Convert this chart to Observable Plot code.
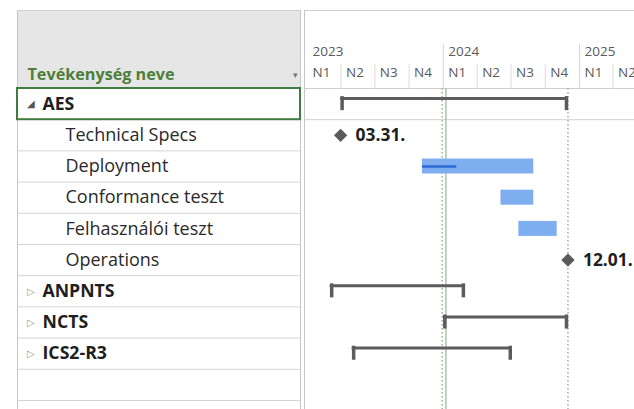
<!DOCTYPE html>
<html><head><meta charset="utf-8">
<script src="https://cdn.jsdelivr.net/npm/d3@7"></script>
<script src="https://cdn.jsdelivr.net/npm/@observablehq/plot@0.6"></script>
<style>
body{margin:0;background:#fff;}
#wrap{display:flex;width:634px;height:409px;overflow:hidden;}
#wrap svg{display:block;flex:none;}
</style></head><body><div id="wrap"></div>
<script>
// ---- data ----
const taskNames = ["AES","Technical Specs","Deployment","Conformance teszt","Felhasználói teszt","Operations","ANPNTS","NCTS","ICS2-R3"];
const taskLevels = [0,1,1,1,1,1,0,0,0];
const taskKinds = ["summary","milestone","task","task","task","milestone","summary","summary","summary"];
const taskStarts = ["2023-03-31","2023-03-31","2023-11-06","2024-06-04","2024-07-22","2024-12-01","2023-03-03","2024-01-01","2023-05-01"];
const taskEnds   = ["2024-12-01","2023-03-31","2024-08-31","2024-08-31","2024-11-02","2024-12-01","2024-02-28","2024-12-01","2024-07-03"];
const taskExpanded = [true,null,null,null,null,null,false,false,false];
const progressTask = ["Deployment"];
const progressEnd = ["2024-02-06"];
const yearLabels = ["2023","2024","2025"];
const quarterLabels = ["N1","N2","N3","N4"];
const dottedDates = ["2023-12-29","2024-12-01"];
const currentDate = ["2024-01-08"];
const headerTitle = "Tevékenység neve";
const selectedRow = 0;
const rowCount = 10;

// ---- derived table ----
const rows = taskNames.map((name,i)=>({
  name, i, level:taskLevels[i], kind:taskKinds[i],
  start:new Date(taskStarts[i]), end:new Date(taskEnds[i]), expanded:taskExpanded[i]
}));
const prog = progressTask.map((n,k)=>{const r=rows.find(d=>d.name===n);return {...r, pend:new Date(progressEnd[k])};});
const yearStarts = yearLabels.map(y=>new Date(`${y}-01-01`));
const quarterStarts = yearLabels.flatMap(y=>quarterLabels.map((q,k)=>({d:new Date(Date.UTC(+y,k*3,1)), q})));
const FONT = "'Open Sans', Lato, sans-serif";
const yScale = {domain:[0,rowCount], range:[88,400], axis:null};

// ---- left table ----
const left = Plot.plot({
  width:302, height:409, marginLeft:17, marginRight:2, marginTop:88, marginBottom:9,
  style:{fontFamily:FONT, background:"white", overflow:"hidden"},
  x:{domain:[0,1], axis:null},
  y:yScale,
  marks:[
    Plot.frame({insetTop:-78, insetBottom:312, fill:"#e6e6e6", stroke:"none"}),
    Plot.ruleY(d3.range(0,rowCount+1), {stroke:"#d5d5d5"}),
    Plot.ruleX([0,1], {insetTop:-78, insetBottom:-9, stroke:"#c6c6c6"}),
    Plot.frame({anchor:"top", insetTop:-78, stroke:"#cfcfcf"}),
    Plot.rect([selectedRow], {x1:0, x2:1, y1:d=>d, y2:d=>d+1, fill:"none", stroke:"#3f7d3f", strokeWidth:2}),
    Plot.text([headerTitle], {frameAnchor:"top-left", dx:10, dy:-9, lineAnchor:"bottom", textAnchor:"start", fill:"#4e7f3a", fontWeight:"bold", fontSize:16.2}),
    Plot.text(["▾"], {frameAnchor:"top-right", dx:-3, dy:-11, lineAnchor:"bottom", textAnchor:"end", fill:"#777", fontSize:9}),
    Plot.text(rows.filter(d=>d.kind==="summary"), {x:0, y:d=>d.i+0.5, text:d=>d.expanded?"◢":"▷", dx:9, textAnchor:"start", fill:d=>d.expanded?"#555":"#999", fontSize:10}),
    Plot.text(rows.filter(d=>d.level===0), {x:0, y:d=>d.i+0.5, text:"name", dx:25, textAnchor:"start", fontWeight:"bold", fontSize:17.7, fill:"#1e1e1e"}),
    Plot.text(rows.filter(d=>d.level===1), {x:0, y:d=>d.i+0.5, text:"name", dx:48, textAnchor:"start", fontSize:18, fill:"#2a2a2a"})
  ]
});

// ---- right gantt ----
const summaries = rows.filter(d=>d.kind==="summary");
const bars = rows.filter(d=>d.kind==="task");
const miles = rows.filter(d=>d.kind==="milestone");
const fmt = d3.utcFormat("%m.%d.");
const right = Plot.plot({
  width:332, height:409, marginLeft:2, marginRight:0, marginTop:88, marginBottom:9,
  style:{fontFamily:FONT, background:"white", overflow:"hidden"},
  x:{type:"utc", domain:[yearStarts[0], yearStarts[2]], range:[5,277], axis:null},
  y:yScale,
  marks:[
    Plot.frame({anchor:"left", insetTop:-78, insetBottom:-9, stroke:"#c6c6c6"}),
    Plot.frame({anchor:"top", insetTop:-78, stroke:"#cfcfcf"}),
    Plot.ruleY([0, selectedRow+1], {stroke:"#cfcfcf"}),
    Plot.axisX({anchor:"top", ticks:quarterStarts.filter(d=>d.d.getUTCMonth()!==0).map(d=>d.d), tickSize:25, tickFormat:()=>"", stroke:"#dcdcdc"}),
    Plot.axisX({anchor:"top", ticks:yearStarts.slice(1), tickSize:45, tickFormat:()=>"", stroke:"#d6d6d6"}),
    Plot.axisX({anchor:"top", ticks:yearStarts, tickSize:0, tickPadding:33, tickFormat:d3.utcFormat("%Y"), textAnchor:"start", dx:5, fontSize:13.5, fill:"#5a5a5a"}),
    Plot.text(quarterStarts, {x:"d", frameAnchor:"top", text:"q", dx:5, dy:-12, lineAnchor:"bottom", textAnchor:"start", fontSize:13.5, fill:"#5a5a5a"}),
    Plot.ruleX(dottedDates.map(d=>new Date(d)), {insetBottom:-9, stroke:"#a9a9a9", strokeWidth:1.5, strokeDasharray:"1.5,2.5"}),
    Plot.ruleX(currentDate.map(d=>new Date(d)), {insetBottom:-9, stroke:"#a6c8a0", strokeWidth:1.5}),
    Plot.rect(bars, {x1:"start", x2:"end", y1:d=>d.i+0.26, y2:d=>d.i+0.74, fill:"#7eaef0"}),
    Plot.ruleY(prog, {x1:"start", x2:"pend", y:d=>d.i+0.5, stroke:"#2b69d4", strokeWidth:2.5}),
    Plot.ruleY(summaries, {x1:"start", x2:"end", y:d=>d.i+0.32, stroke:"#5c5c5c", strokeWidth:3}),
    Plot.ruleX(summaries, {x:"start", y1:d=>d.i+0.26, y2:d=>d.i+0.71, dx:1.5, stroke:"#5c5c5c", strokeWidth:3.5}),
    Plot.ruleX(summaries, {x:"end", y1:d=>d.i+0.26, y2:d=>d.i+0.71, dx:-1.5, stroke:"#5c5c5c", strokeWidth:3.5}),
    Plot.dot(miles, {x:"start", y:d=>d.i+0.5, symbol:"diamond2", r:6, fill:"#5a5a5a", stroke:"none"}),
    Plot.text(miles, {x:"start", y:d=>d.i+0.5, text:d=>fmt(d.start), dx:15, textAnchor:"start", fontWeight:"bold", fontSize:17.4, fill:"#1e1e1e"})
  ]
});

document.getElementById("wrap").append(left, right);
</script></body></html>
